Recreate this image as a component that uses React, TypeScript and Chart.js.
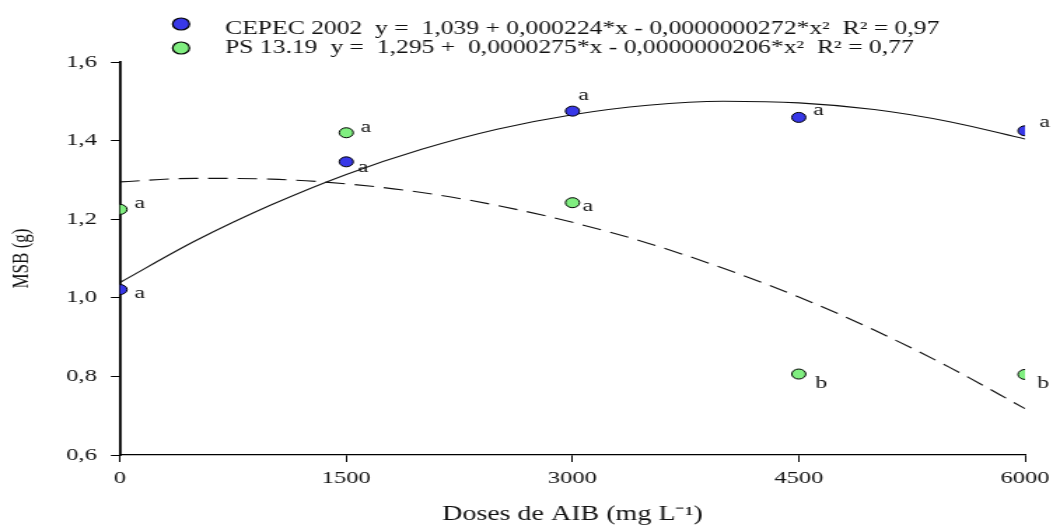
import React, { useEffect, useRef } from "react";
import { Chart, registerables } from "chart.js";

Chart.register(...registerables);

// ---- data ----
const doses = [0, 1500, 3000, 4500, 6000];
const cepecMSB = [1.021, 1.346, 1.475, 1.459, 1.425];
const psMSB = [1.225, 1.42, 1.242, 0.806, 0.805];
const cepecLetters = ["a", "a", "a", "a", "a"];
const psLetters = ["a", "a", "a", "b", "b"];

// fitted curves
const curveDoses = [0, 500, 1000, 1500, 2000, 2500, 3000, 3500, 4000, 4500, 5000, 5500, 6000];
const cepecFit = [1.039, 1.145, 1.236, 1.314, 1.378, 1.429, 1.466, 1.49, 1.5, 1.496, 1.479, 1.448, 1.404];
const psFit = [1.295, 1.304, 1.302, 1.29, 1.268, 1.235, 1.192, 1.139, 1.075, 1.002, 0.918, 0.823, 0.718];

const xTickValues = [0, 1500, 3000, 4500, 6000];
const xTickLabels = ["0", "1500", "3000", "4500", "6000"];
const yTickValues = [0.6, 0.8, 1.0, 1.2, 1.4, 1.6];
const yTickLabels = ["0,6", "0,8", "1,0", "1,2", "1,4", "1,6"];

const legendLabels = [
  "CEPEC 2002  y =  1,039 + 0,000224*x - 0,0000000272*x\u00B2  R\u00B2 = 0,97",
  "PS 13.19  y =  1,295 +  0,0000275*x - 0,0000000206*x\u00B2  R\u00B2 = 0,77",
];
const xTitle = "Doses de AIB (mg L\u207B\u00B9)";
const yTitle = "MSB (g)";

// ---- styles ----
const BLUE = "#3838e8";
const GREEN = "#80ee80";
const TEXT = "#111";
const SERIF = "'Liberation Serif', 'Times New Roman', serif";
const CANVAS_W = 752;
const CANVAS_H = 525;
const cepecLetterOffsets = [[14, 4], [12, 6], [8, -16], [14, -7], [14, -8]];
const psLetterOffsets = [[14, -6], [14, -5], [11, 4], [16, 9], [13, 9]];

const letterPlugin = {
  id: "letters",
  afterDatasetsDraw(chart: any) {
    const ctx = chart.ctx;
    ctx.save();
    ctx.font = `17px ${SERIF}`;
    ctx.fillStyle = TEXT;
    ctx.textAlign = "center";
    ctx.textBaseline = "middle";
    const sets: [number, string[], number[][]][] = [
      [0, cepecLetters, cepecLetterOffsets],
      [1, psLetters, psLetterOffsets],
    ];
    for (const [idx, letters, offs] of sets) {
      const meta = chart.getDatasetMeta(idx);
      meta.data.forEach((pt: any, i: number) => {
        ctx.fillText(letters[i], pt.x + offs[i][0], pt.y + offs[i][1]);
      });
    }
    ctx.restore();
  },
};

const legendPlugin = {
  id: "customLegend",
  afterDraw(chart: any) {
    const ctx = chart.ctx;
    const left = chart.chartArea.left;
    const rows = [
      { color: BLUE, my: 24, ty: 34 },
      { color: GREEN, my: 48, ty: 53 },
    ];
    ctx.save();
    rows.forEach((r, i) => {
      ctx.beginPath();
      ctx.arc(left + 43.6, r.my, 6, 0, Math.PI * 2);
      ctx.fillStyle = r.color;
      ctx.fill();
      ctx.lineWidth = 1.2;
      ctx.strokeStyle = "#000";
      ctx.stroke();
      ctx.font = `18.3px ${SERIF}`;
      ctx.fillStyle = TEXT;
      ctx.textAlign = "left";
      ctx.textBaseline = "alphabetic";
      ctx.fillText(legendLabels[i], left + 75, r.ty);
    });
    ctx.restore();
  },
};

export default function App() {
  const ref = useRef<HTMLCanvasElement>(null);

  useEffect(() => {
    if (!ref.current) return;
    const chart = new Chart(ref.current, {
      type: "scatter",
      data: {
        datasets: [
          {
            label: "CEPEC 2002",
            data: doses.map((x, i) => ({ x, y: cepecMSB[i] })),
            backgroundColor: BLUE,
            borderColor: "#000",
            borderWidth: 1,
            pointRadius: 5,
            order: 0,
          },
          {
            label: "PS 13.19",
            data: doses.map((x, i) => ({ x, y: psMSB[i] })),
            backgroundColor: GREEN,
            borderColor: "#000",
            borderWidth: 1,
            pointRadius: 5,
            order: 0,
          },
          {
            type: "line",
            label: "CEPEC fit",
            data: curveDoses.map((x, i) => ({ x, y: cepecFit[i] })),
            borderColor: "#111",
            borderWidth: 1.1,
            pointRadius: 0,
            fill: false,
            cubicInterpolationMode: "monotone",
            order: 1,
          } as any,
          {
            type: "line",
            label: "PS fit",
            data: curveDoses.map((x, i) => ({ x, y: psFit[i] })),
            borderColor: "#111",
            borderWidth: 1.1,
            borderDash: [14, 7],
            pointRadius: 0,
            fill: false,
            cubicInterpolationMode: "monotone",
            order: 1,
          } as any,
        ],
      },
      options: {
        animation: false,
        responsive: false,
        devicePixelRatio: 1,
        layout: { padding: { top: 62, left: 0, right: 20, bottom: 0 } },
        plugins: {
          legend: { display: false },
          tooltip: { enabled: false },
        },
        scales: {
          x: {
            type: "linear",
            min: 0,
            max: 6000,
            afterBuildTicks: (s: any) => {
              s.ticks = xTickValues.map((v) => ({ value: v }));
            },
            afterFit: (s: any) => {
              s.height = 70;
              s.paddingLeft = 0;
              s.paddingRight = 0;
            },
            grid: {
              drawOnChartArea: false,
              drawTicks: true,
              tickLength: 7,
              color: "#000",
              lineWidth: 1,
            },
            border: { display: true, color: "#000", width: 1.3 },
            ticks: {
              padding: 6,
              color: TEXT,
              maxRotation: 0,
              font: { family: SERIF, size: 17.5 },
              callback: (_v: any, i: number) => xTickLabels[i],
            },
            title: {
              display: true,
              text: xTitle,
              color: TEXT,
              font: { family: SERIF, size: 20, lineHeight: 1 },
              padding: { top: 0, bottom: 0 },
            },
          },
          y: {
            type: "linear",
            min: 0.6,
            max: 1.6,
            afterBuildTicks: (s: any) => {
              s.ticks = yTickValues.map((v) => ({ value: v }));
            },
            afterFit: (s: any) => {
              s.width = 85.7;
              s.paddingTop = 0;
              s.paddingBottom = 0;
            },
            grid: {
              drawOnChartArea: false,
              drawTicks: true,
              tickLength: 6.5,
              color: "#000",
              lineWidth: 1,
            },
            border: { display: true, color: "#000", width: 1.8 },
            ticks: {
              padding: 10,
              color: TEXT,
              font: { family: SERIF, size: 17.5 },
              callback: (_v: any, i: number) => yTickLabels[i],
            },
            title: {
              display: true,
              text: yTitle,
              color: TEXT,
              font: { family: SERIF, size: 17 },
              padding: { top: 5, bottom: 0 },
            },
          },
        },
      },
      plugins: [letterPlugin, legendPlugin],
    } as any);
    return () => chart.destroy();
  }, []);

  return (
    <div style={{ position: "fixed", left: 0, top: 0, width: 1053, height: 525, background: "#fff" }}>
      <canvas
        ref={ref}
        width={CANVAS_W}
        height={CANVAS_H}
        style={{ width: "1053px", height: "525px", display: "block" }}
      />
    </div>
  );
}
